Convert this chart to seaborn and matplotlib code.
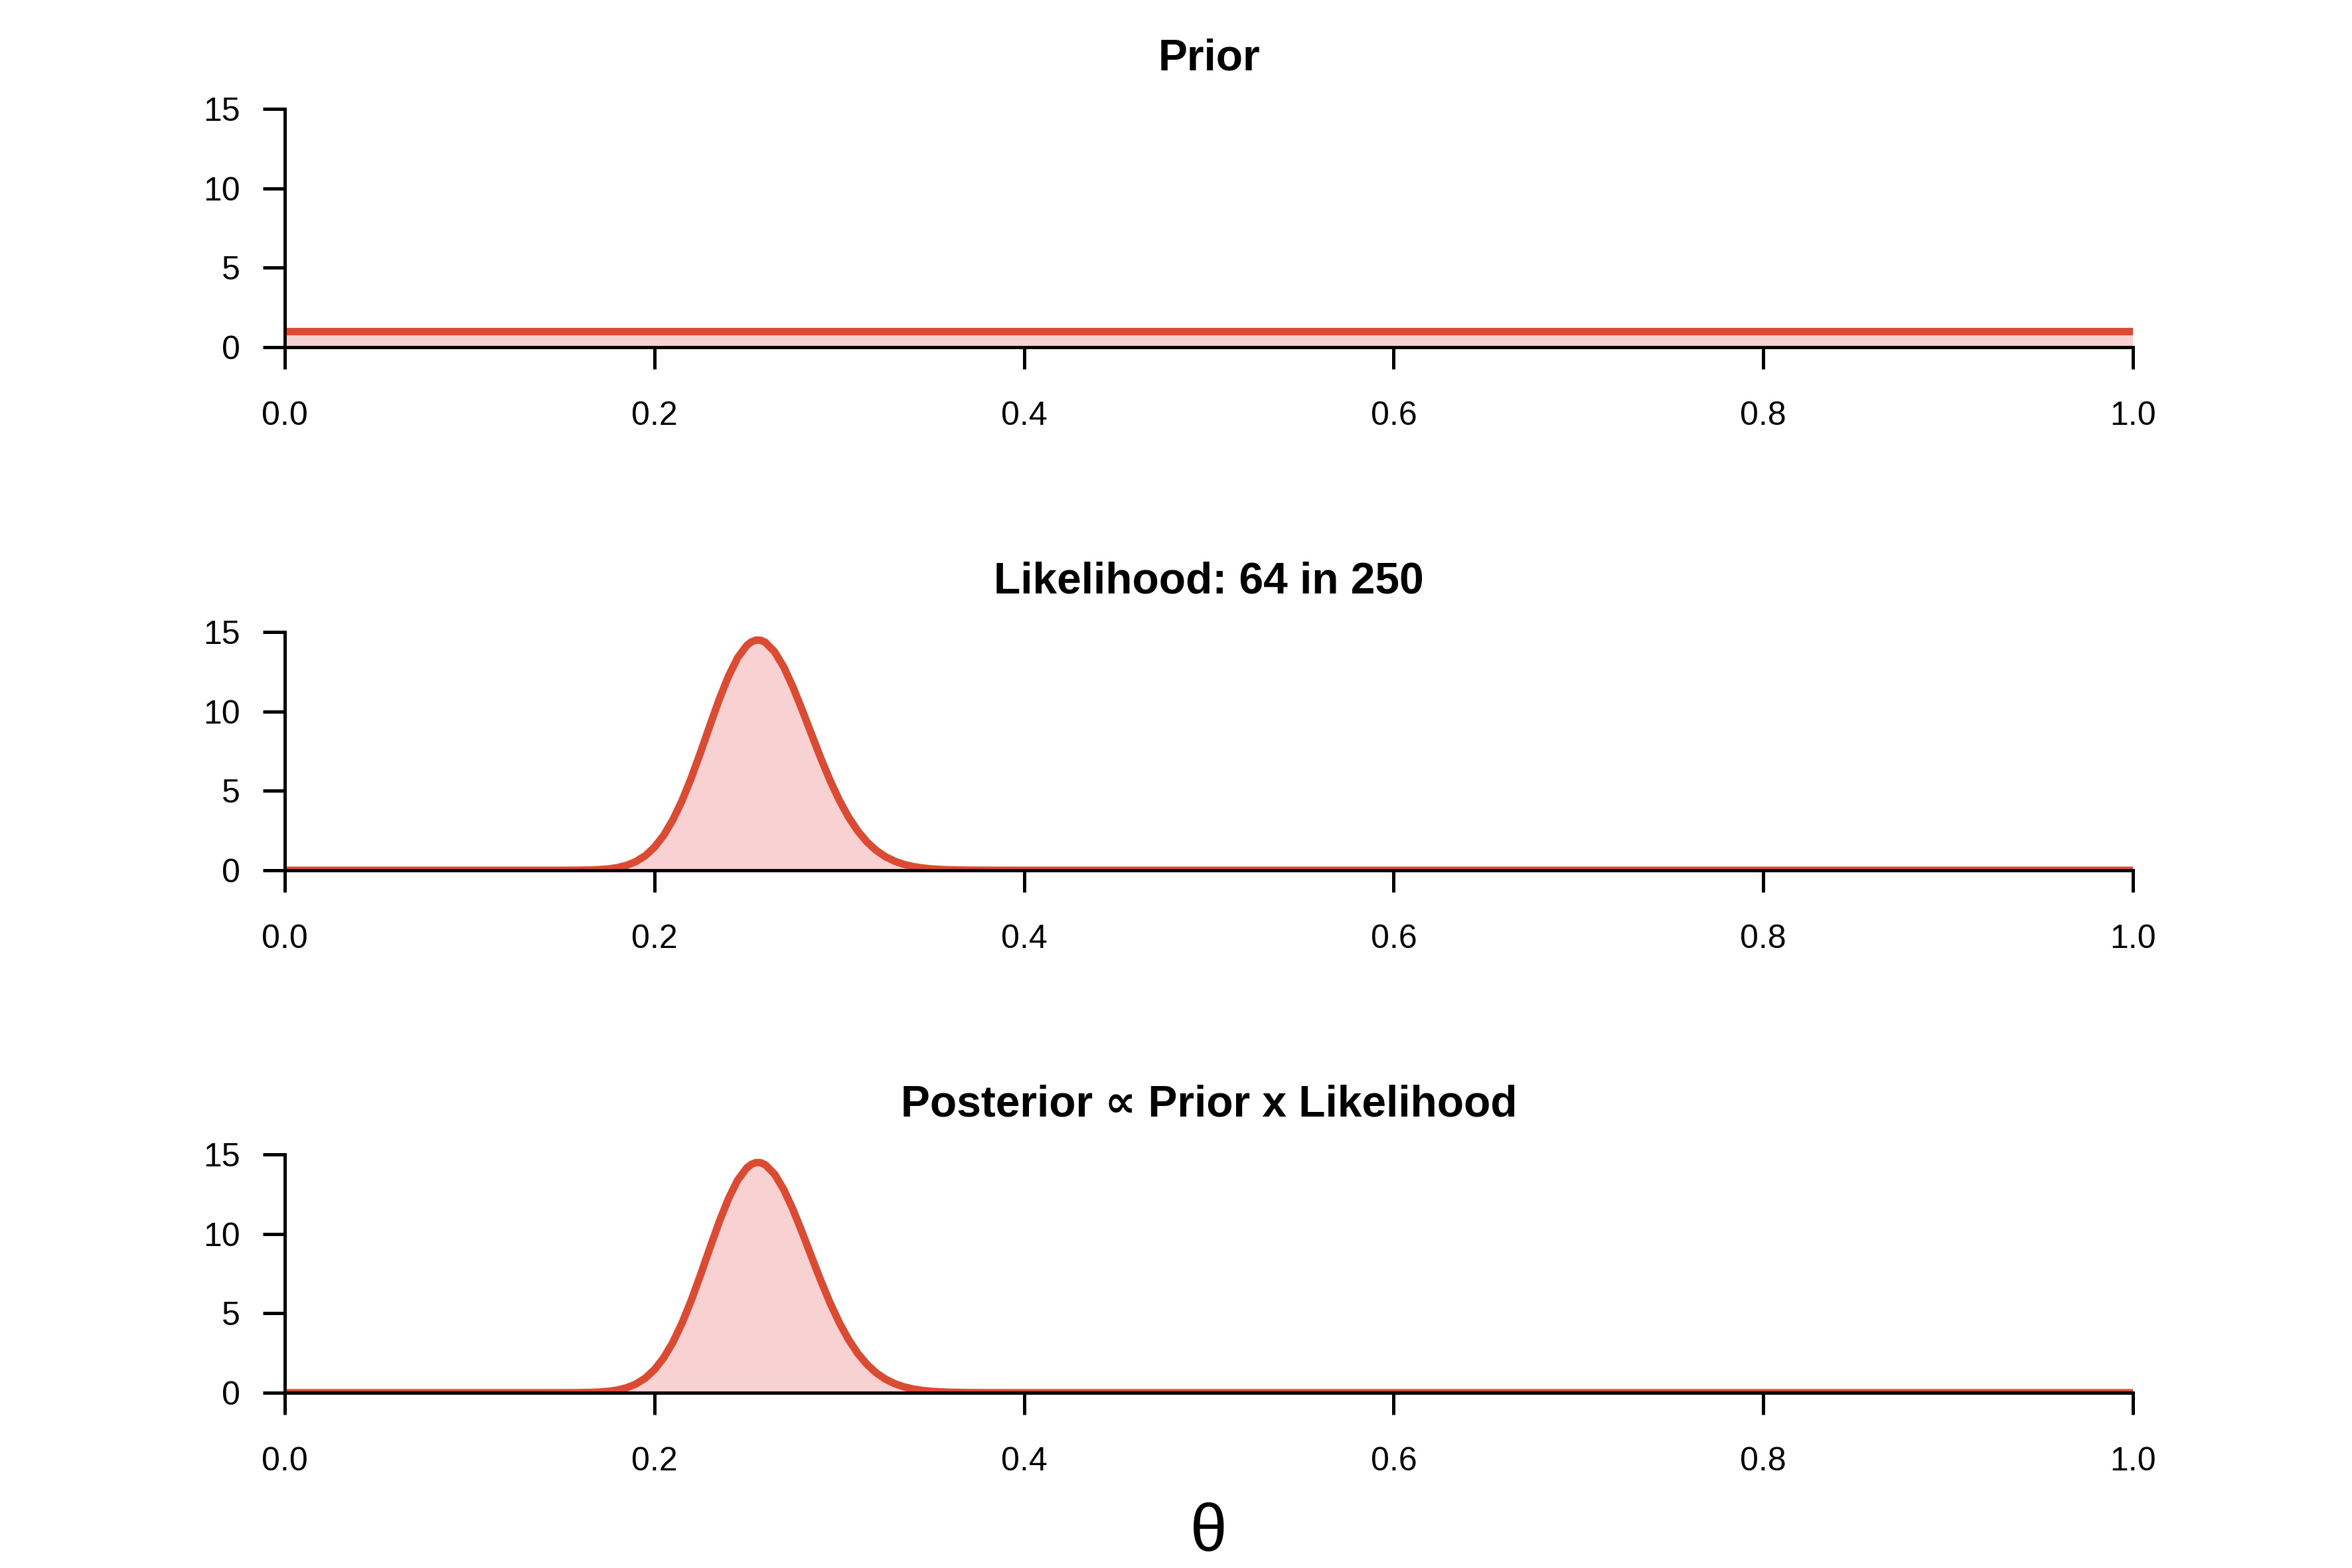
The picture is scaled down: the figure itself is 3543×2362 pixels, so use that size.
import matplotlib
matplotlib.use("Agg")
import matplotlib.pyplot as plt
import pandas as pd
import seaborn as sns

# Prior: flat density on [0, 1]
prior_theta = [0.0, 1.0]
prior_density = [1.0, 1.0]

# Likelihood (normalised)
lik_theta = [0.0, 0.10, 0.14, 0.15, 0.155, 0.16, 0.165, 0.17, 0.175, 0.18, 0.185,
             0.19, 0.195, 0.20, 0.205, 0.21, 0.215, 0.22, 0.225, 0.23, 0.235,
             0.24, 0.245, 0.25, 0.2525, 0.255, 0.2575, 0.26, 0.265, 0.27, 0.275, 0.28, 0.285,
             0.29, 0.295, 0.30, 0.305, 0.31, 0.315, 0.32, 0.325, 0.33, 0.335,
             0.34, 0.345, 0.35, 0.355, 0.36, 0.37, 0.38, 0.40, 0.50, 1.0]
lik_density = [0.0, 0.0, 0.0, 0.001, 0.003, 0.008, 0.019, 0.042, 0.086, 0.169, 0.313,
               0.55, 0.916, 1.452, 2.198, 3.178, 4.398, 5.836, 7.435, 9.105, 10.735,
               12.197, 13.373, 14.157, 14.38, 14.49, 14.48, 14.349, 13.759, 12.789, 11.523, 10.078, 8.56,
               7.063, 5.665, 4.42, 3.356, 2.48, 1.786, 1.252, 0.856, 0.571, 0.371,
               0.235, 0.145, 0.088, 0.052, 0.03, 0.009, 0.003, 0.0, 0.0, 0.0]

# Posterior (flat prior, so same shape as the likelihood)
post_theta = list(lik_theta)
post_density = list(lik_density)

titles = ["Prior", "Likelihood: 64 in 250", "Posterior \u221d Prior x Likelihood"]
x_ticks = [0.0, 0.2, 0.4, 0.6, 0.8, 1.0]
x_ticklabels = ["0.0", "0.2", "0.4", "0.6", "0.8", "1.0"]
y_ticks = [0, 5, 10, 15]

line_col = "#DD4A32"
fill_col = "#F8D2D3"

sns.set_style("ticks")
plt.rcParams["font.family"] = ["Liberation Sans", "DejaVu Sans"]
for key in ["text.color", "axes.labelcolor", "xtick.color", "ytick.color", "axes.edgecolor"]:
    plt.rcParams[key] = "black"

fig = plt.figure(figsize=(3543 / 300, 2362 / 300), dpi=300)

left = 429 / 3543
width = (3213 - 429) / 3543
bottoms = [1 - 523 / 2362, 1 - 1311 / 2362, 1 - 2098 / 2362]
height = 359 / 2362

panels = [(prior_theta, prior_density), (lik_theta, lik_density), (post_theta, post_density)]

for (theta, dens), title, b in zip(panels, titles, bottoms):
    ax = fig.add_axes([left, b, width, height])
    df = pd.DataFrame({"theta": theta, "density": dens})
    ax.fill_between(df["theta"], df["density"], color=fill_col, lw=0, zorder=1)
    sns.lineplot(data=df, x="theta", y="density", ax=ax, color=line_col,
                 linewidth=2.7, estimator=None, sort=True, zorder=2)
    ax.set_xlim(0, 1)
    ax.set_ylim(0, 15)
    ax.set_xticks(x_ticks)
    ax.set_xticklabels(x_ticklabels)
    ax.set_yticks(y_ticks)
    ax.set_xlabel("")
    ax.set_ylabel("")
    ax.spines["top"].set_visible(False)
    ax.spines["right"].set_visible(False)
    ax.spines["left"].set_linewidth(1.2)
    ax.spines["bottom"].set_linewidth(1.2)
    ax.tick_params(axis="both", direction="out", length=8, width=1.2,
                   labelsize=12, color="black", labelcolor="black")
    ax.tick_params(axis="x", pad=11.5)
    ax.tick_params(axis="y", pad=8.2)
    ax.text(0.5, 1 + 58 / 359, title, transform=ax.transAxes, ha="center",
            va="baseline", fontsize=15.8, fontweight="bold", color="black")

fig.text((429 + 3213) / 2 / 3543, 1 - 2310 / 2362, "\u03b8", ha="center",
         va="center", fontsize=24, color="black")

fig.savefig("out.png", dpi=300)
